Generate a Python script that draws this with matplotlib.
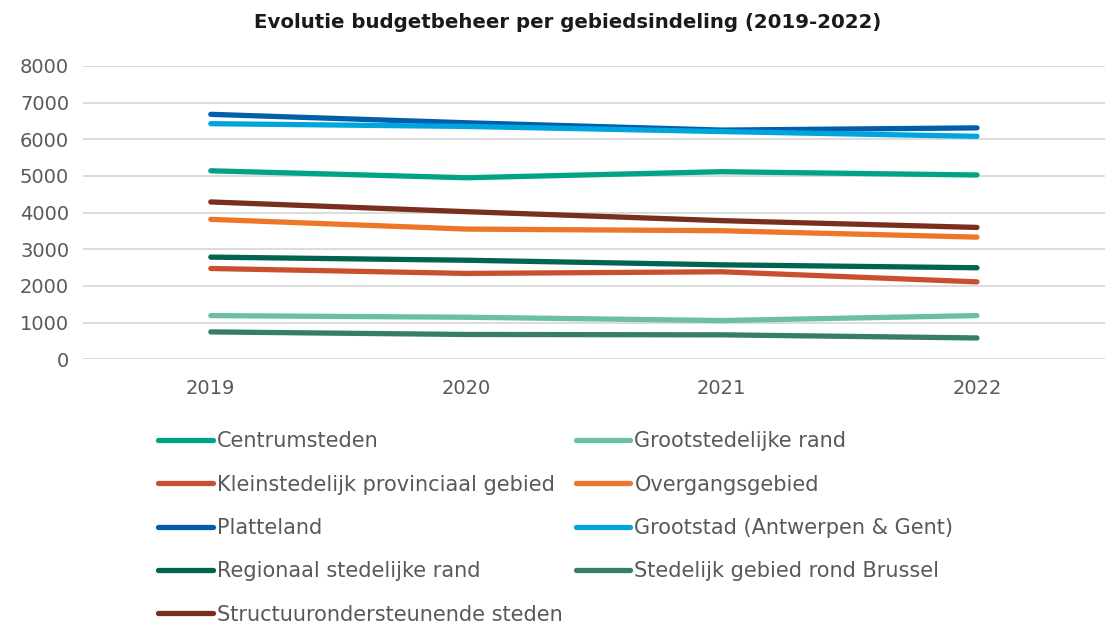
import matplotlib.pyplot as plt

years = ["2019", "2020", "2021", "2022"]

# budget per gebiedstype, one list per series
centrumsteden = [5140, 4950, 5115, 5025]
grootstedelijke_rand = [1190, 1145, 1055, 1190]
kleinstedelijk = [2475, 2340, 2385, 2110]
overgangsgebied = [3815, 3550, 3505, 3330]
platteland = [6680, 6450, 6250, 6310]
grootstad = [6425, 6350, 6210, 6080]
regionaal_rand = [2785, 2700, 2575, 2495]
rond_brussel = [745, 675, 665, 580]
structuur = [4290, 4025, 3780, 3595]

series = [
    ("Centrumsteden", centrumsteden, "#00A383"),
    ("Grootstedelijke rand", grootstedelijke_rand, "#6CC0A2"),
    ("Kleinstedelijk provinciaal gebied", kleinstedelijk, "#C9502F"),
    ("Overgangsgebied", overgangsgebied, "#EE7628"),
    ("Platteland", platteland, "#005EAD"),
    ("Grootstad (Antwerpen & Gent)", grootstad, "#00A5DE"),
    ("Regionaal stedelijke rand", regionaal_rand, "#006450"),
    ("Stedelijk gebied rond Brussel", rond_brussel, "#367E64"),
    ("Structuurondersteunende steden", structuur, "#7A2E1E"),
]

grey = "#595959"

fig = plt.figure(figsize=(11.08, 6.28), dpi=100)
ax = fig.add_axes([0.075, 0.428, 0.922, 0.467])

x = list(range(len(years)))
handles = []
for name, vals, col in series:
    h, = ax.plot(x, vals, color=col, lw=3.8, solid_capstyle="round", label=name)
    handles.append(h)

ax.set_xlim(-0.5, 3.5)
ax.set_ylim(0, 8000)
ax.set_yticks(range(0, 8001, 1000))
ax.set_xticks(x)
ax.set_xticklabels(years)
ax.grid(axis="y", color="#D9D9D9", lw=1.3)
ax.set_axisbelow(True)
for s in ax.spines.values():
    s.set_visible(False)
ax.tick_params(length=0, labelsize=14, colors=grey)
ax.tick_params(axis="x", pad=14)
ax.tick_params(axis="y", pad=10)

fig.suptitle("Evolutie budgetbeheer per gebiedsindeling (2019-2022)",
             fontsize=14.2, fontweight="bold", color="#1a1a1a", x=0.512, y=0.98)

# matplotlib fills legend columns top to bottom, so reorder for row-wise reading
order = [0, 2, 4, 6, 8, 1, 3, 5, 7]
leg = fig.legend([handles[i] for i in order], [series[i][0] for i in order],
                 ncol=2, loc="upper left", bbox_to_anchor=(0.143, 0.313),
                 frameon=False, fontsize=15, handlelength=2.6,
                 handletextpad=0.2, columnspacing=0.65, labelspacing=1.12,
                 borderaxespad=0, borderpad=0)
for t in leg.get_texts():
    t.set_color(grey)

fig.savefig("out.png", dpi=100)
